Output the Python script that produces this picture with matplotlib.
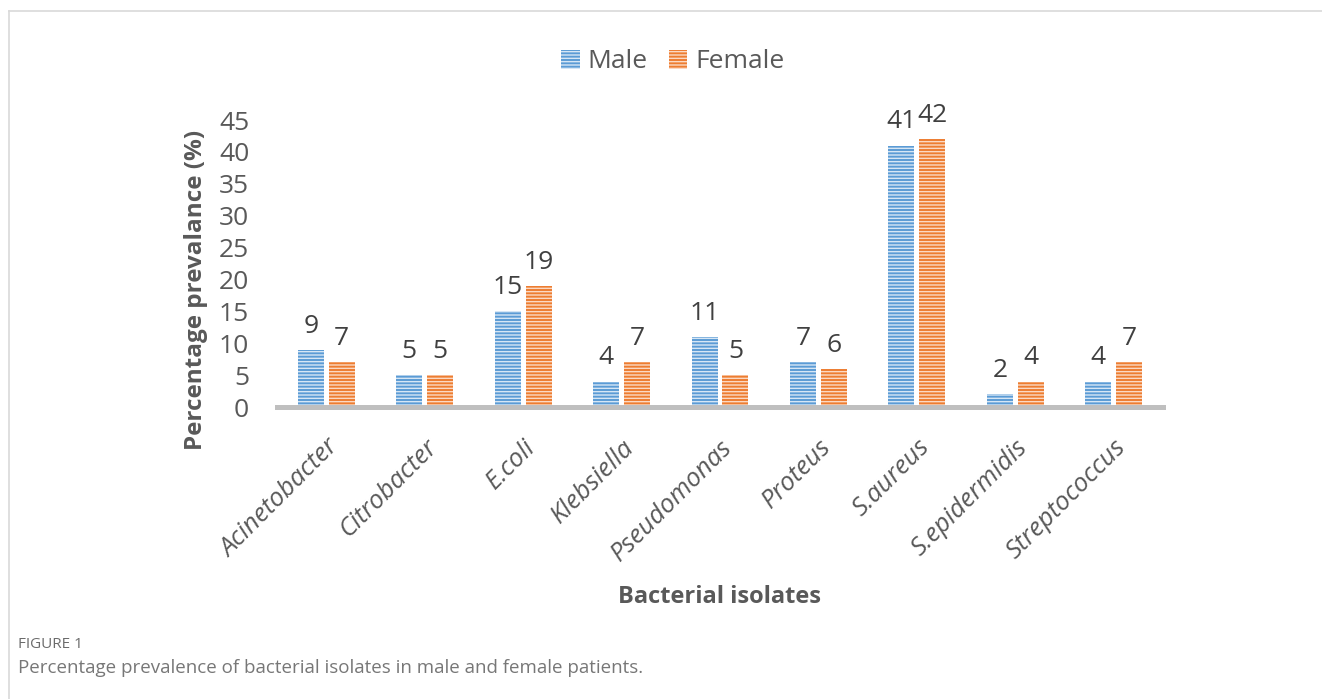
import matplotlib.pyplot as plt
import numpy as np
from matplotlib.lines import Line2D

isolates = ["Acinetobacter", "Citrobacter", "E.coli", "Klebsiella", "Pseudomonas",
            "Proteus", "S.aureus", "S.epidermidis", "Streptococcus"]
male = [9, 5, 15, 4, 11, 7, 41, 2, 4]
female = [7, 5, 19, 7, 5, 6, 42, 4, 7]
yticks = [0, 5, 10, 15, 20, 25, 30, 35, 40, 45]


def main():
    plt.rcParams['font.family'] = ['Open Sans', 'DejaVu Sans']
    plt.rcParams['hatch.linewidth'] = 1.0

    fig = plt.figure(figsize=(13.22, 6.99), dpi=100)
    ax = fig.add_axes([0.2095, 0.4177, 0.6702, 0.4106])

    x = np.arange(len(isolates))
    w = 0.264
    off = 0.157

    #bars with horizontal stripes
    b1 = ax.bar(x - off, male, w, color="#5B9BD5", edgecolor="#d6e6f5",
                linewidth=0, hatch="-----", label="Male", zorder=2)
    b2 = ax.bar(x + off, female, w, color="#ED7D31", edgecolor="#fbd9c4",
                linewidth=0, hatch="-----", label="Female", zorder=2)

    ax.bar_label(b1, padding=8, fontsize=19, color="#404040")
    ax.bar_label(b2, padding=8, fontsize=19, color="#404040")

    #baseline
    ax.axhline(0, color="#BFBFBF", lw=3.6, zorder=3, clip_on=False)

    #axes config
    ax.set_xlim(-0.5, len(isolates) - 0.5)
    ax.set_ylim(0, 45)
    ax.set_yticks(yticks)
    ax.set_xticks(x)
    ax.set_xticklabels(isolates, rotation=45, ha="right", rotation_mode="anchor",
                       fontsize=18.5, style="italic", color="#595959")
    ax.tick_params(axis="y", length=0, labelsize=19, labelcolor="#595959", pad=20)
    ax.tick_params(axis="x", length=0, pad=20)
    for s in ax.spines.values():
        s.set_visible(False)

    #labels
    fig.text(0.5446, 1 - 597 / 699, "Bacterial isolates", ha="center", va="center",
             fontsize=17, fontweight="bold", color="#595959")
    fig.text(196 / 1322, 1 - 290 / 699, "Percentage prevalance (%)", ha="center",
             va="center", rotation=90, fontsize=17.5, fontweight="bold", color="#595959")

    #legend
    fig.legend(handles=[b1, b2], loc="center", bbox_to_anchor=(0.509, 1 - 62 / 699),
               ncol=2, frameon=False, fontsize=19, handlelength=0.7,
               handleheight=0.7, handletextpad=0.3, columnspacing=0.8,
               labelcolor="#595959")

    #caption
    fig.text(18 / 1322, 1 - 644 / 699, "FIGURE 1", ha="left", va="center",
             fontsize=11, color="#6b6b6b")
    fig.text(18 / 1322, 1 - 668 / 699,
             "Percentage prevalence of bacterial isolates in male and female patients.",
             ha="left", va="center", fontsize=13.5, color="#777777")

    #frame lines
    fig.add_artist(Line2D([9 / 1322, 1], [1 - 11 / 699, 1 - 11 / 699],
                          color="#d9d9d9", lw=1.2, transform=fig.transFigure))
    fig.add_artist(Line2D([9 / 1322, 9 / 1322], [0, 1 - 11 / 699],
                          color="#d9d9d9", lw=1.2, transform=fig.transFigure))

    fig.savefig("out.png", dpi=100, facecolor="white")


if __name__ == "__main__":
    main()
